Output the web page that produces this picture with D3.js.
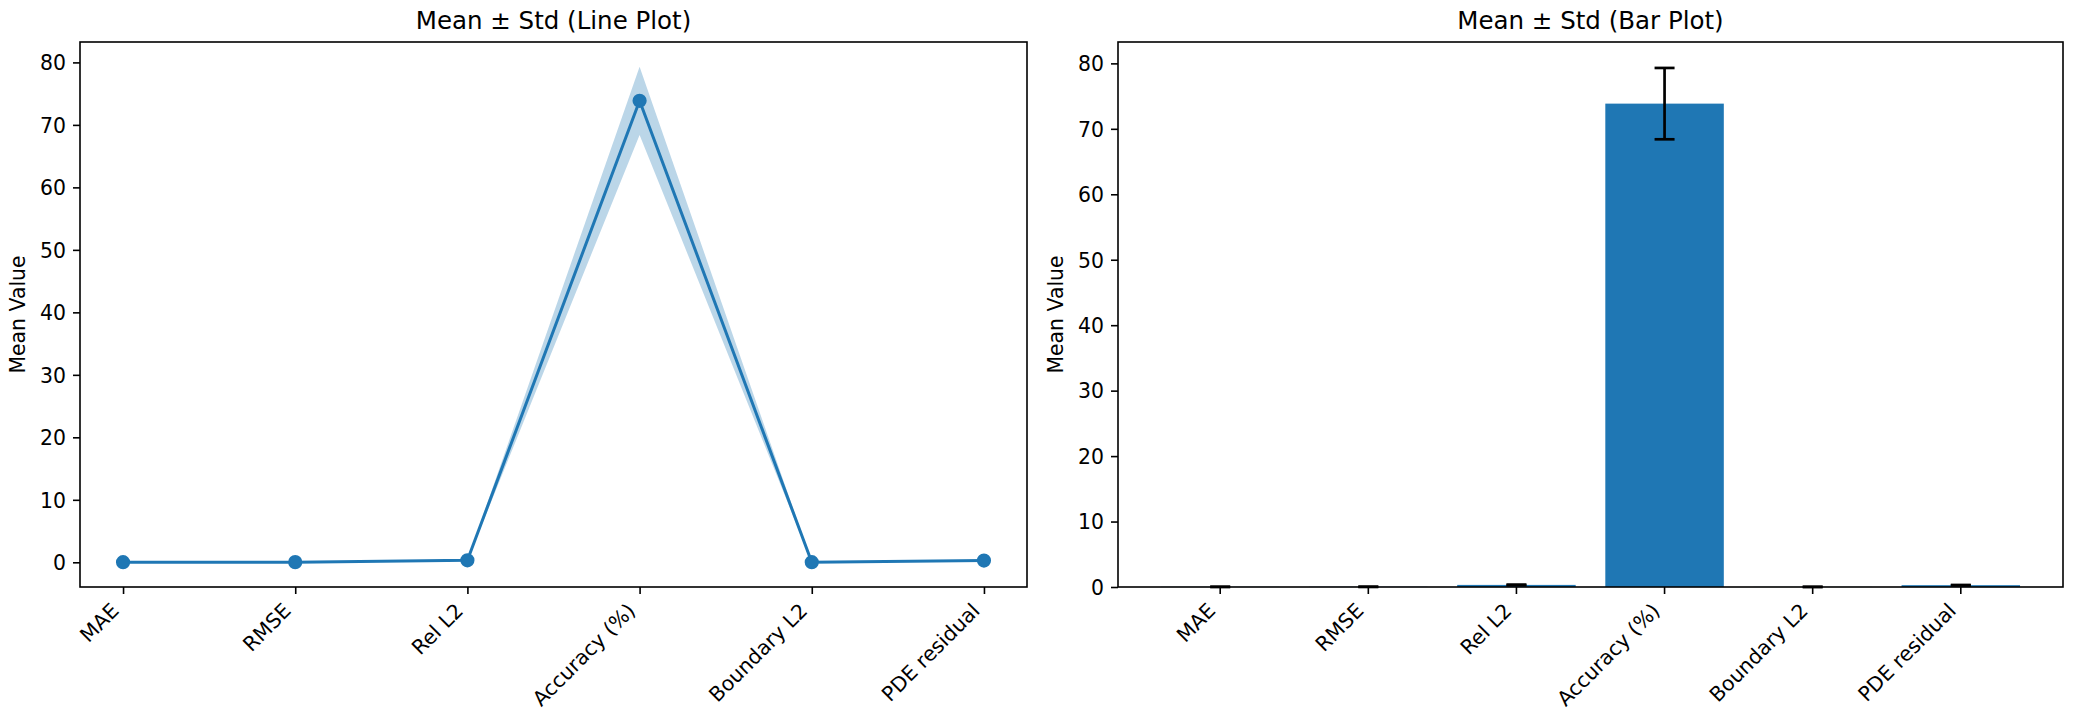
<!DOCTYPE html>
<html>
<head>
<meta charset="utf-8">
<script src="https://cdn.jsdelivr.net/npm/d3@7"></script>
<style>
  body { margin: 0; background: #fff; }
  svg text { font-family: "DejaVu Sans", sans-serif; fill: #000; }
</style>
</head>
<body>
<div id="chart"></div>
<script>
// Data
const metrics = ['MAE', 'RMSE', 'Rel L2', 'Accuracy (%)', 'Boundary L2', 'PDE residual'];
const means = [0.021, 0.028, 0.32, 73.85, 0.015, 0.28];
const stds = [0.004, 0.005, 0.04, 5.45, 0.003, 0.03];
const yTicks = [0, 10, 20, 30, 40, 50, 60, 70, 80];
const titles = ['Mean \u00b1 Std (Line Plot)', 'Mean \u00b1 Std (Bar Plot)'];

const rows = metrics.map((m, i) => ({ metric: m, mean: means[i], std: stds[i] }));

// Dimensions
const width = 2073;
const height = 721;
const plotTop = 42;
const plotBottom = 587;
const leftPanel = { x0: 80, x1: 1027 };
const rightPanel = { x0: 1118, x1: 2063 };

const blue = '#1f77b4';
const tickFont = 20.4;
const titleFont = 24.5;

const svg = d3.select('#chart')
    .append('svg')
    .attr('width', width)
    .attr('height', height);

svg.append('rect')
    .attr('width', width)
    .attr('height', height)
    .attr('fill', '#fff');

function styleAxisY(g) {
    g.select('.domain').remove();
    g.selectAll('.tick line').attr('stroke', '#000').attr('stroke-width', 1.6);
    g.selectAll('.tick text')
        .attr('font-size', tickFont)
        .attr('fill', '#000')
        .attr('dy', '0.36em');
}

function styleAxisX(g) {
    g.select('.domain').remove();
    g.selectAll('.tick line').attr('stroke', '#000').attr('stroke-width', 1.6);
    g.selectAll('.tick text')
        .attr('font-size', tickFont)
        .attr('fill', '#000')
        .attr('y', 0)
        .attr('dy', 0)
        .attr('text-anchor', 'end')
        .attr('transform', 'translate(-3.5, 25) rotate(-45)');
}

function frame(panel) {
    svg.append('rect')
        .attr('x', panel.x0)
        .attr('y', plotTop)
        .attr('width', panel.x1 - panel.x0)
        .attr('height', plotBottom - plotTop)
        .attr('fill', 'none')
        .attr('stroke', '#000')
        .attr('stroke-width', 1.6);
}

function labels(panel, title) {
    svg.append('text')
        .attr('x', (panel.x0 + panel.x1) / 2)
        .attr('y', 29)
        .attr('text-anchor', 'middle')
        .attr('font-size', titleFont)
        .text(title);

    svg.append('text')
        .attr('transform', `translate(${panel.x0 - 55}, ${(plotTop + plotBottom) / 2}) rotate(-90)`)
        .attr('text-anchor', 'middle')
        .attr('font-size', tickFont)
        .text('Mean Value');
}

// Left: line plot with std band
{
    const lo = d3.min(rows, d => d.mean - d.std);
    const hi = d3.max(rows, d => d.mean + d.std);
    const pad = (hi - lo) * 0.05;

    const xScale = d3.scalePoint()
        .domain(metrics)
        .range([leftPanel.x0, leftPanel.x1])
        .padding(0.25);

    const yScale = d3.scaleLinear()
        .domain([lo - pad, hi + pad])
        .range([plotBottom, plotTop]);

    const area = d3.area()
        .x(d => xScale(d.metric))
        .y0(d => yScale(d.mean - d.std))
        .y1(d => yScale(d.mean + d.std));

    const line = d3.line()
        .x(d => xScale(d.metric))
        .y(d => yScale(d.mean));

    svg.append('path')
        .datum(rows)
        .attr('d', area)
        .attr('fill', blue)
        .attr('fill-opacity', 0.3);

    svg.append('path')
        .datum(rows)
        .attr('d', line)
        .attr('fill', 'none')
        .attr('stroke', blue)
        .attr('stroke-width', 3);

    svg.append('g')
        .selectAll('circle')
        .data(rows)
        .join('circle')
        .attr('cx', d => xScale(d.metric))
        .attr('cy', d => yScale(d.mean))
        .attr('r', 6.1)
        .attr('fill', blue)
        .attr('stroke', blue)
        .attr('stroke-width', 2);

    svg.append('g')
        .attr('transform', `translate(${leftPanel.x0},0)`)
        .call(d3.axisLeft(yScale).tickValues(yTicks).tickSize(7).tickPadding(7))
        .call(styleAxisY);

    svg.append('g')
        .attr('transform', `translate(0,${plotBottom})`)
        .call(d3.axisBottom(xScale).tickSize(7))
        .call(styleAxisX);

    frame(leftPanel);
    labels(leftPanel, titles[0]);
}

// Right: bar plot with error bars
{
    const hi = d3.max(rows, d => d.mean + d.std);

    const xScale = d3.scaleBand()
        .domain(metrics)
        .range([rightPanel.x0, rightPanel.x1])
        .paddingInner(0.2)
        .paddingOuter(0.29);

    const yScale = d3.scaleLinear()
        .domain([0, hi * 1.05])
        .range([plotBottom, plotTop]);

    svg.append('g')
        .selectAll('rect')
        .data(rows)
        .join('rect')
        .attr('x', d => xScale(d.metric))
        .attr('y', d => yScale(d.mean))
        .attr('width', xScale.bandwidth())
        .attr('height', d => yScale(0) - yScale(d.mean))
        .attr('fill', blue);

    const cx = d => xScale(d.metric) + xScale.bandwidth() / 2;
    const err = svg.append('g')
        .attr('stroke', '#000')
        .attr('stroke-width', 2.7);

    err.selectAll('.stem')
        .data(rows)
        .join('line')
        .attr('class', 'stem')
        .attr('x1', cx)
        .attr('x2', cx)
        .attr('y1', d => yScale(d.mean - d.std))
        .attr('y2', d => yScale(d.mean + d.std));

    err.selectAll('.cap-top')
        .data(rows)
        .join('line')
        .attr('class', 'cap-top')
        .attr('x1', d => cx(d) - 10)
        .attr('x2', d => cx(d) + 10)
        .attr('y1', d => yScale(d.mean + d.std))
        .attr('y2', d => yScale(d.mean + d.std));

    err.selectAll('.cap-bottom')
        .data(rows)
        .join('line')
        .attr('class', 'cap-bottom')
        .attr('x1', d => cx(d) - 10)
        .attr('x2', d => cx(d) + 10)
        .attr('y1', d => yScale(d.mean - d.std))
        .attr('y2', d => yScale(d.mean - d.std));

    svg.append('g')
        .attr('transform', `translate(${rightPanel.x0},0)`)
        .call(d3.axisLeft(yScale).tickValues(yTicks).tickSize(7).tickPadding(7))
        .call(styleAxisY);

    svg.append('g')
        .attr('transform', `translate(0,${plotBottom})`)
        .call(d3.axisBottom(xScale).tickSize(7))
        .call(styleAxisX);

    frame(rightPanel);
    labels(rightPanel, titles[1]);
}
</script>
</body>
</html>
